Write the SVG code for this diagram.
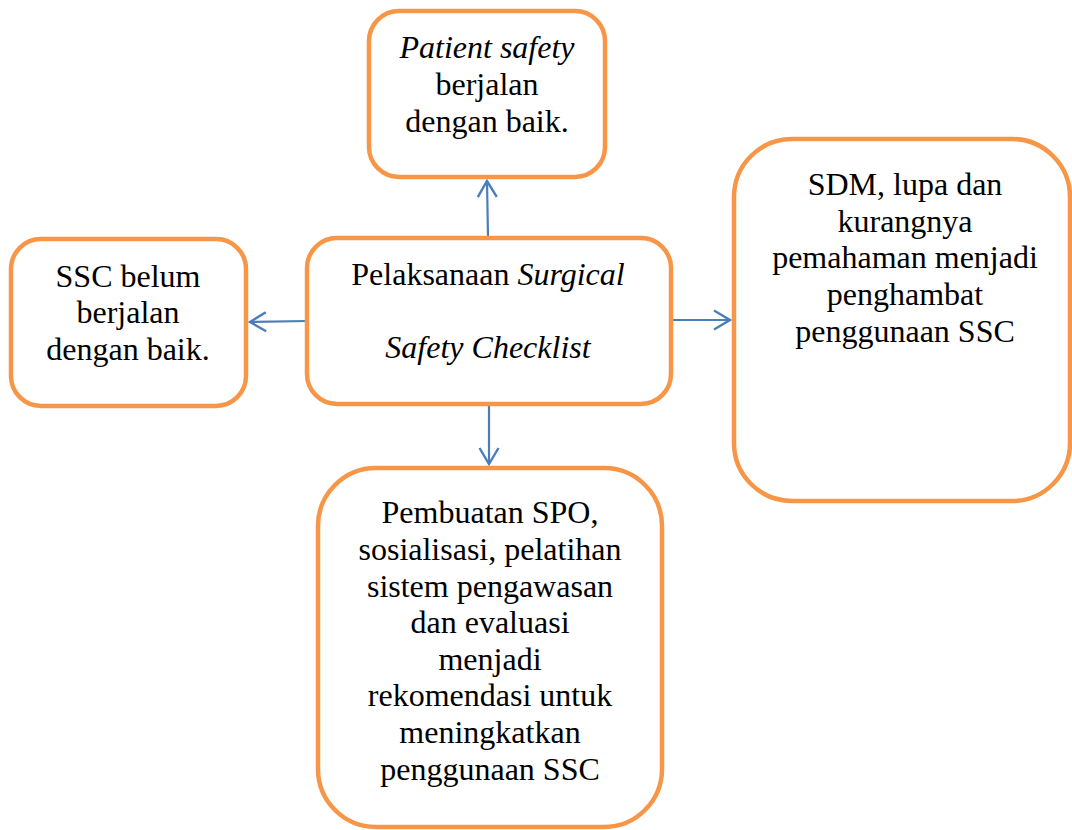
<svg xmlns="http://www.w3.org/2000/svg" width="1072" height="830" viewBox="0 0 1072 830">
<style>
.box{fill:#fff;stroke:#F79646;stroke-width:4.5}
.c{fill:none;stroke:#4A7EBB;stroke-width:2.2}
</style>
<defs>
<marker id="ah" viewBox="0 0 20 22" refX="18" refY="11" markerWidth="20" markerHeight="22" markerUnits="userSpaceOnUse" orient="auto">
<path d="M2,1.5 L18,11 L2,20.5" fill="none" stroke="#4A7EBB" stroke-width="2.4"/>
</marker>
</defs>
<rect width="1072" height="830" fill="#fff"/>
<g id="connectors">
<line class="c" x1="488" y1="237" x2="487" y2="181" marker-end="url(#ah)"/>
<line class="c" x1="307" y1="321" x2="250" y2="322" marker-end="url(#ah)"/>
<line class="c" x1="671" y1="320" x2="730" y2="320" marker-end="url(#ah)"/>
<line class="c" x1="489" y1="405" x2="489" y2="464" marker-end="url(#ah)"/>
</g>
<g font-family="Liberation Serif" font-size="32" fill="#000" text-anchor="middle">
<g id="top">
<rect class="box" x="369" y="11" width="236" height="166" rx="30"/>
<text x="487" y="58" font-style="italic">Patient safety</text>
<text x="487" y="95">berjalan</text>
<text x="487" y="132">dengan baik.</text>
</g>
<g id="left">
<rect class="box" x="11" y="239" width="235" height="167" rx="30"/>
<text x="128" y="287">SSC belum</text>
<text x="128" y="323">berjalan</text>
<text x="128" y="360">dengan baik.</text>
</g>
<g id="center">
<rect class="box" x="307" y="238" width="364" height="166" rx="30"/>
<text x="488" y="285">Pelaksanaan <tspan font-style="italic">Surgical</tspan></text>
<text x="488" y="358" font-style="italic">Safety Checklist</text>
</g>
<g id="right">
<rect class="box" x="734" y="139" width="336" height="362" rx="58"/>
<text x="905" y="195">SDM, lupa dan</text>
<text x="905" y="232">kurangnya</text>
<text x="905" y="268">pemahaman menjadi</text>
<text x="905" y="305">penghambat</text>
<text x="905" y="342">penggunaan SSC</text>
</g>
<g id="bottom">
<rect class="box" x="318" y="468" width="344" height="359" rx="58"/>
<text x="490" y="523">Pembuatan SPO,</text>
<text x="490" y="560">sosialisasi, pelatihan</text>
<text x="490" y="597">sistem pengawasan</text>
<text x="490" y="633">dan evaluasi</text>
<text x="490" y="670">menjadi</text>
<text x="490" y="706">rekomendasi untuk</text>
<text x="490" y="743">meningkatkan</text>
<text x="490" y="780">penggunaan SSC</text>
</g>
</g>
</svg>
